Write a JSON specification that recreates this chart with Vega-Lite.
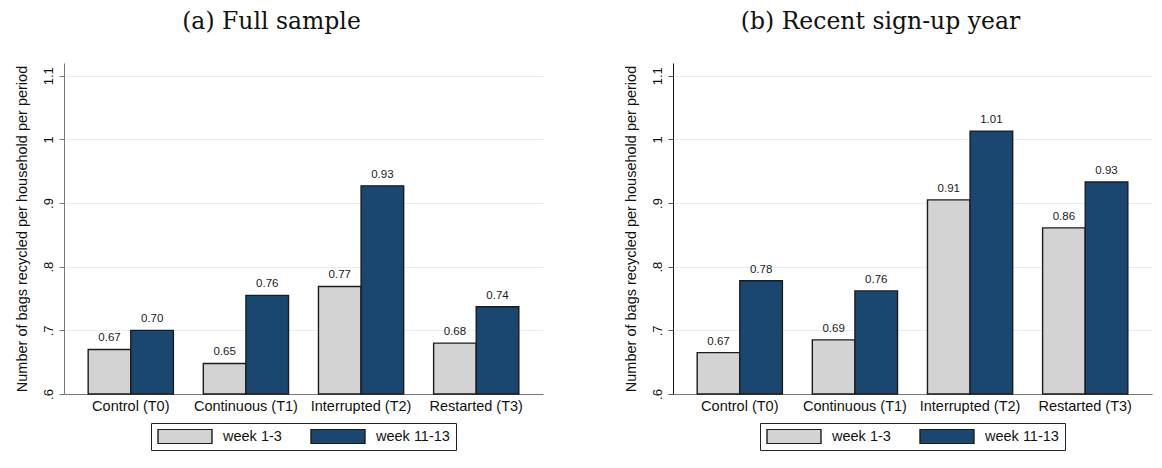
{
  "$schema": "https://vega.github.io/schema/vega-lite/v6.json",
  "background": "white",
  "padding": {"left": 14, "top": 9, "right": 4, "bottom": 10},
  "datasets": {
    "full": [
      {"group": "Control (T0)", "period": "week 1-3", "value": 0.670, "label": "0.67"},
      {"group": "Control (T0)", "period": "week 11-13", "value": 0.700, "label": "0.70"},
      {"group": "Continuous (T1)", "period": "week 1-3", "value": 0.648, "label": "0.65"},
      {"group": "Continuous (T1)", "period": "week 11-13", "value": 0.755, "label": "0.76"},
      {"group": "Interrupted (T2)", "period": "week 1-3", "value": 0.769, "label": "0.77"},
      {"group": "Interrupted (T2)", "period": "week 11-13", "value": 0.927, "label": "0.93"},
      {"group": "Restarted (T3)", "period": "week 1-3", "value": 0.680, "label": "0.68"},
      {"group": "Restarted (T3)", "period": "week 11-13", "value": 0.737, "label": "0.74"}
    ],
    "recent": [
      {"group": "Control (T0)", "period": "week 1-3", "value": 0.665, "label": "0.67"},
      {"group": "Control (T0)", "period": "week 11-13", "value": 0.778, "label": "0.78"},
      {"group": "Continuous (T1)", "period": "week 1-3", "value": 0.685, "label": "0.69"},
      {"group": "Continuous (T1)", "period": "week 11-13", "value": 0.762, "label": "0.76"},
      {"group": "Interrupted (T2)", "period": "week 1-3", "value": 0.905, "label": "0.91"},
      {"group": "Interrupted (T2)", "period": "week 11-13", "value": 1.013, "label": "1.01"},
      {"group": "Restarted (T3)", "period": "week 1-3", "value": 0.861, "label": "0.86"},
      {"group": "Restarted (T3)", "period": "week 11-13", "value": 0.933, "label": "0.93"}
    ]
  },
  "spacing": 80,
  "resolve": {"legend": {"color": "independent"}},
  "hconcat": [
    {
      "width": 479,
      "height": 331,
      "title": {"text": "(a) Full sample"},
      "data": {"name": "full"},
      "encoding": {
        "x": {"field": "group", "type": "nominal", "sort": ["Control (T0)", "Continuous (T1)", "Interrupted (T2)", "Restarted (T3)"],
              "scale": {"paddingInner": 0.26, "paddingOuter": 0.21},
              "axis": {"title": null, "labelAngle": 0, "ticks": false, "labelPadding": 5, "domainColor": "#777777", "labelOverlap": false}},
        "xOffset": {"field": "period", "type": "nominal", "sort": ["week 1-3", "week 11-13"], "scale": {"paddingInner": 0, "paddingOuter": 0}},
        "y": {"field": "value", "type": "quantitative", "scale": {"domain": [0.6, 1.12], "zero": false, "nice": false},
              "axis": {"title": "Number of bags recycled per household per period", "domainColor": "#777777", "tickColor": "#777777",
                       "values": [0.6, 0.7, 0.8, 0.9, 1, 1.1],
                       "labelExpr": "datum.value < 0.95 ? slice(format(datum.value, '.1f'), 1) : format(datum.value, '.1~f')"}}
      },
      "layer": [
        {"mark": {"type": "bar", "stroke": "#1c1c1c", "strokeWidth": 1.4},
         "encoding": {"y2": {"datum": 0.6},
           "color": {"field": "period", "type": "nominal", "sort": ["week 1-3", "week 11-13"],
                     "scale": {"domain": ["week 1-3", "week 11-13"], "range": ["#D3D3D3", "#1A476F"]},
                     "legend": {"orient": "bottom", "direction": "horizontal", "title": null}}}},
        {"mark": {"type": "text", "baseline": "alphabetic", "dy": -8, "fontSize": 11.5, "font": "Liberation Sans", "color": "#1a1a1a"},
         "encoding": {"text": {"field": "label"}}}
      ]
    },
    {
      "width": 479,
      "height": 331,
      "title": {"text": "(b) Recent sign-up year"},
      "data": {"name": "recent"},
      "encoding": {
        "x": {"field": "group", "type": "nominal", "sort": ["Control (T0)", "Continuous (T1)", "Interrupted (T2)", "Restarted (T3)"],
              "scale": {"paddingInner": 0.26, "paddingOuter": 0.21},
              "axis": {"title": null, "labelAngle": 0, "ticks": false, "labelPadding": 5, "domainColor": "#777777", "labelOverlap": false}},
        "xOffset": {"field": "period", "type": "nominal", "sort": ["week 1-3", "week 11-13"], "scale": {"paddingInner": 0, "paddingOuter": 0}},
        "y": {"field": "value", "type": "quantitative", "scale": {"domain": [0.6, 1.12], "zero": false, "nice": false},
              "axis": {"title": "Number of bags recycled per household per period", "domainColor": "#111111", "tickColor": "#555555",
                       "values": [0.6, 0.7, 0.8, 0.9, 1, 1.1],
                       "labelExpr": "datum.value < 0.95 ? slice(format(datum.value, '.1f'), 1) : format(datum.value, '.1~f')"}}
      },
      "layer": [
        {"mark": {"type": "bar", "stroke": "#1c1c1c", "strokeWidth": 1.4},
         "encoding": {"y2": {"datum": 0.6},
           "color": {"field": "period", "type": "nominal", "sort": ["week 1-3", "week 11-13"],
                     "scale": {"domain": ["week 1-3", "week 11-13"], "range": ["#D3D3D3", "#1A476F"]},
                     "legend": {"orient": "bottom", "direction": "horizontal", "title": null}}}},
        {"mark": {"type": "text", "baseline": "alphabetic", "dy": -8, "fontSize": 11.5, "font": "Liberation Sans", "color": "#1a1a1a"},
         "encoding": {"text": {"field": "label"}}}
      ]
    }
  ],
  "config": {
    "view": {"stroke": null},
    "font": "Liberation Sans",
    "title": {"font": "DejaVu Serif", "fontSize": 23.5, "fontWeight": "normal", "color": "#111111", "anchor": "middle", "frame": "group", "dx": -32, "offset": 30},
    "axis": {"labelFont": "Liberation Sans", "titleFont": "Liberation Sans", "labelColor": "#111111", "titleColor": "#111111", "titleFontWeight": "normal", "labelFontSize": 14.5, "domainWidth": 1},
    "axisY": {"labelAngle": 270, "labelAlign": "center", "labelBaseline": "bottom", "labelFontSize": 13,
              "tickSize": 5, "labelPadding": 4, "grid": true, "gridColor": "#E6EFF0", "gridWidth": 1,
              "titleFontSize": 14.5, "titlePadding": 13},
    "legend": {"strokeColor": "#222222", "fillColor": "white", "padding": 6, "offset": 10,
               "symbolType": "M-1,-0.27L1,-0.27L1,0.27L-1,0.27Z", "symbolSize": 2916, "clipHeight": 15,
               "symbolStrokeColor": "#1c1c1c", "symbolStrokeWidth": 1.4, "symbolOpacity": 1,
               "labelFont": "Liberation Sans", "labelFontSize": 14.5, "labelColor": "#111111", "labelOffset": 10, "columnPadding": 28,
               "layout": {"bottom": {"anchor": "middle"}}}
  }
}
